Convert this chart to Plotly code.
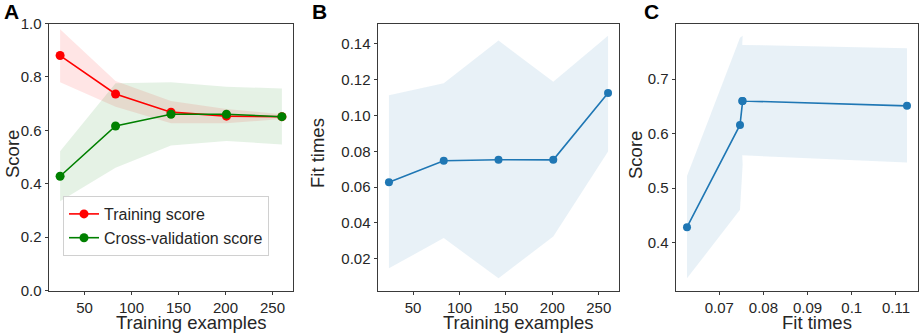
import plotly.graph_objects as go

# ---------------- data ----------------
train_sizes = [24, 83, 142, 201, 260]

train_mean = [0.880, 0.736, 0.668, 0.653, 0.651]
train_upper = [0.978, 0.785, 0.710, 0.680, 0.660]
train_lower = [0.780, 0.688, 0.626, 0.626, 0.642]

cv_mean = [0.428, 0.616, 0.660, 0.660, 0.651]
cv_upper = [0.522, 0.776, 0.780, 0.763, 0.757]
cv_lower = [0.334, 0.460, 0.543, 0.560, 0.547]

fit_mean = [0.0627, 0.0747, 0.0753, 0.0752, 0.1125]
fit_upper = [0.1113, 0.1179, 0.1418, 0.1188, 0.1445]
fit_lower = [0.0147, 0.0316, 0.0091, 0.0325, 0.0798]

x_ticks_ab = [50, 100, 150, 200, 250]
y_ticks_a = [0.0, 0.2, 0.4, 0.6, 0.8, 1.0]
y_ticks_b = [0.02, 0.04, 0.06, 0.08, 0.10, 0.12, 0.14]
x_ticks_c = [0.07, 0.08, 0.09, 0.10, 0.11]
x_ticklabels_c = ["0.07", "0.08", "0.09", "0.1", "0.11"]
y_ticks_c = [0.4, 0.5, 0.6, 0.7]

# ---------------- layout helpers ----------------
W, H = 920, 334
FONT = "Liberation Sans, Arial, sans-serif"
TXT = "#262626"
AX = "#3a3a3a"


def px(x):
    return x / W


def py(y):
    return (H - y) / H


def padded(lo, hi, frac=0.05):
    r = hi - lo
    return [lo - frac * r, hi + frac * r]


def band(x, upper, lower, color, xa, ya):
    return go.Scatter(
        x=list(x) + list(x)[::-1], y=list(upper) + list(lower)[::-1],
        fill="toself", fillcolor=color, line=dict(width=0),
        mode="lines", hoverinfo="skip", showlegend=False, xaxis=xa, yaxis=ya)


fig = go.Figure()

# Panel A
fig.add_trace(band(train_sizes, train_upper, train_lower, "rgba(255,0,0,0.1)", "x", "y"))
fig.add_trace(band(train_sizes, cv_upper, cv_lower, "rgba(0,128,0,0.1)", "x", "y"))
fig.add_trace(go.Scatter(x=train_sizes, y=train_mean, mode="lines+markers",
                         name="Training score", line=dict(color="#ff0000", width=1.6),
                         marker=dict(color="#ff0000", size=9), xaxis="x", yaxis="y"))
fig.add_trace(go.Scatter(x=train_sizes, y=cv_mean, mode="lines+markers",
                         name="Cross-validation score", line=dict(color="#008000", width=1.6),
                         marker=dict(color="#008000", size=9), xaxis="x", yaxis="y"))

# Panel B
fig.add_trace(band(train_sizes, fit_upper, fit_lower, "rgba(31,119,180,0.1)", "x2", "y2"))
fig.add_trace(go.Scatter(x=train_sizes, y=fit_mean, mode="lines+markers", showlegend=False,
                         line=dict(color="#1f77b4", width=1.6),
                         marker=dict(color="#1f77b4", size=8), xaxis="x2", yaxis="y2"))

# Panel C
fig.add_trace(band(fit_mean, cv_upper, cv_lower, "rgba(31,119,180,0.1)", "x3", "y3"))
fig.add_trace(go.Scatter(x=fit_mean, y=cv_mean, mode="lines+markers", showlegend=False,
                         line=dict(color="#1f77b4", width=1.6),
                         marker=dict(color="#1f77b4", size=8), xaxis="x3", yaxis="y3"))

ydom = [py(290.5), py(23.5)]


def axis(domain, rng, tickvals, ticktext=None, anchor=None):
    d = dict(domain=domain, range=rng, tickvals=tickvals, showgrid=False, zeroline=False,
             showline=True, mirror=True, linecolor=AX, linewidth=1,
             ticks="outside", ticklen=3.5, tickcolor=AX, tickwidth=1,
             tickfont=dict(family=FONT, size=15, color=TXT), automargin=False,
             anchor=anchor)
    if ticktext is not None:
        d["ticktext"] = ticktext
    return d


xa_rng = padded(min(train_sizes), max(train_sizes))
yb_rng = padded(min(fit_lower), max(fit_upper))
xc_rng = padded(min(fit_mean), max(fit_mean))
yc_rng = padded(min(cv_lower), max(cv_upper))

fig.update_layout(
    width=W, height=H,
    margin=dict(l=0, r=0, t=0, b=0),
    paper_bgcolor="white", plot_bgcolor="white",
    font=dict(family=FONT, color=TXT),
    xaxis=axis([px(49), px(293)], xa_rng, x_ticks_ab, anchor="y"),
    yaxis=axis(ydom, [0, 1.0], y_ticks_a, [f"{v:.1f}" for v in y_ticks_a], anchor="x"),
    xaxis2=axis([px(378), px(619)], xa_rng, x_ticks_ab, anchor="y2"),
    yaxis2=axis(ydom, yb_rng, y_ticks_b, [f"{v:.2f}" for v in y_ticks_b], anchor="x2"),
    xaxis3=axis([px(676), px(918)], xc_rng, x_ticks_c, x_ticklabels_c, anchor="y3"),
    yaxis3=axis(ydom, yc_rng, y_ticks_c, [f"{v:.1f}" for v in y_ticks_c], anchor="x3"),
    legend=dict(x=px(63), y=py(196), xanchor="left", yanchor="top",
                bgcolor="rgba(255,255,255,0.8)", bordercolor="#d0d0d0", borderwidth=1,
                font=dict(family=FONT, size=16, color=TXT), tracegroupgap=0,
                itemwidth=30),
)

annots = [
    # x-axis titles
    dict(x=px(191), y=py(322.5), text="Training examples", size=18.5, angle=0),
    dict(x=px(518), y=py(322.5), text="Training examples", size=18.5, angle=0),
    dict(x=px(817), y=py(322.5), text="Fit times", size=18.5, angle=0),
    # y-axis titles
    dict(x=px(12), y=py(154), text="Score", size=18.5, angle=-90),
    dict(x=px(317), y=py(153), text="Fit times", size=18.5, angle=-90),
    dict(x=px(635), y=py(155), text="Score", size=18.5, angle=-90),
]
for a in annots:
    fig.add_annotation(x=a["x"], y=a["y"], xref="paper", yref="paper", text=a["text"],
                       showarrow=False, textangle=a["angle"], xanchor="center", yanchor="middle",
                       font=dict(family=FONT, size=a["size"], color=TXT))

for lbl, xx in [("A", 2), ("B", 310), ("C", 642)]:
    fig.add_annotation(x=px(xx), y=py(11.5), xref="paper", yref="paper", text=f"<b>{lbl}</b>",
                       showarrow=False, xanchor="left", yanchor="middle",
                       font=dict(family=FONT, size=21, color="black"))

fig.write_html("out.html", config={"displayModeBar": False},
               post_script="document.body.style.margin='0';document.body.style.overflow='hidden';")
